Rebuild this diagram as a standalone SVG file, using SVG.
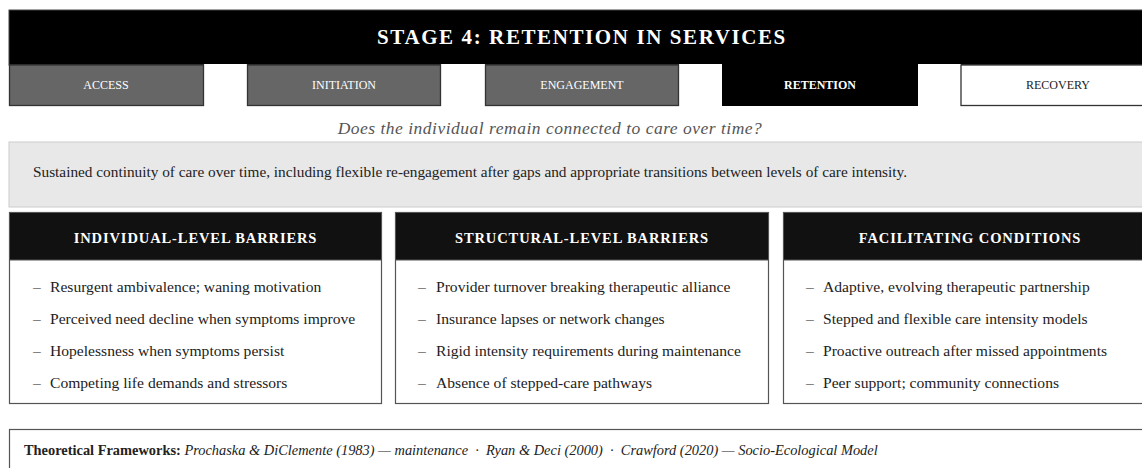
<svg xmlns="http://www.w3.org/2000/svg" width="1142" height="468" viewBox="0 0 1142 468">
<style>
.serif{font-family:"Liberation Serif","Times New Roman",serif}
.tab{font-family:"Liberation Serif",serif;font-size:12px;text-anchor:middle}
.hdr{font-family:"Liberation Serif",serif;font-size:14.5px;font-weight:bold;fill:#fff;text-anchor:middle;letter-spacing:0.9px}
.item{font-family:"Liberation Serif",serif;font-size:15.6px;fill:#222}
.colbox{fill:#fff;stroke:#555;stroke-width:1.2}
.colhdr{fill:#111;stroke:#555;stroke-width:1}
</style>
<rect width="1142" height="468" fill="#fff"/>
<g id="title">
<rect x="9" y="10" width="1150" height="55" fill="#000" stroke="#444" stroke-width="1"/>
<text x="582" y="44" class="serif" font-size="21" font-weight="bold" fill="#fff" text-anchor="middle" letter-spacing="1.6">STAGE 4: RETENTION IN SERVICES</text>
</g>
<g id="tab-gaps" fill="#fff">
<rect x="204" y="64" width="43" height="44"/>
<rect x="679" y="64" width="43" height="44"/>
<rect x="918" y="64" width="43" height="44"/>
<rect x="441" y="64" width="44" height="44"/>
</g>
<g id="tab-access"><rect x="9.5" y="65" width="194" height="40.5" fill="#666" stroke="#333" stroke-width="1.3"/><text x="106" y="89" class="tab" fill="#fff">ACCESS</text></g>
<g id="tab-initiation"><rect x="247.5" y="65" width="193" height="40.5" fill="#666" stroke="#333" stroke-width="1.3"/><text x="344" y="89" class="tab" fill="#fff">INITIATION</text></g>
<g id="tab-engagement"><rect x="485.5" y="65" width="193" height="40.5" fill="#666" stroke="#333" stroke-width="1.3"/><text x="582" y="89" class="tab" fill="#fff">ENGAGEMENT</text></g>
<g id="tab-retention"><rect x="722" y="64" width="196" height="42" fill="#000"/><text x="820" y="89" class="tab" fill="#fff" font-weight="bold">RETENTION</text></g>
<g id="tab-recovery"><rect x="961" y="65" width="200" height="40.5" fill="#fff" stroke="#333" stroke-width="1.3"/><text x="1058" y="89" class="tab" fill="#222">RECOVERY</text></g>
<g id="question"><text x="550" y="134" class="serif" font-size="17.5" font-style="italic" fill="#555" text-anchor="middle" letter-spacing="0.5">Does the individual remain connected to care over time?</text></g>
<g id="definition">
<rect x="9" y="142" width="1150" height="65" fill="#e8e8e8" stroke="#ccc" stroke-width="1"/>
<text x="33" y="177" class="serif" font-size="15.3" fill="#222">Sustained continuity of care over time, including flexible re-engagement after gaps and appropriate transitions between levels of care intensity.</text>
</g>
<g id="col-individual">
<rect x="9.5" y="212.5" width="372" height="191" class="colbox"/>
<rect x="9.5" y="212.5" width="372" height="47.5" class="colhdr"/>
<text x="195.5" y="243" class="hdr">INDIVIDUAL-LEVEL BARRIERS</text>
<text class="item" x="33" y="292">–</text><text class="item" x="50" y="292">Resurgent ambivalence; waning motivation</text>
<text class="item" x="33" y="324">–</text><text class="item" x="50" y="324">Perceived need decline when symptoms improve</text>
<text class="item" x="33" y="356">–</text><text class="item" x="50" y="356">Hopelessness when symptoms persist</text>
<text class="item" x="33" y="388">–</text><text class="item" x="50" y="388">Competing life demands and stressors</text>
</g>
<g id="col-structural">
<rect x="395.5" y="212.5" width="373" height="191" class="colbox"/>
<rect x="395.5" y="212.5" width="373" height="47.5" class="colhdr"/>
<text x="582" y="243" class="hdr">STRUCTURAL-LEVEL BARRIERS</text>
<text class="item" x="418" y="292">–</text><text class="item" x="436" y="292">Provider turnover breaking therapeutic alliance</text>
<text class="item" x="418" y="324">–</text><text class="item" x="436" y="324">Insurance lapses or network changes</text>
<text class="item" x="418" y="356">–</text><text class="item" x="436" y="356">Rigid intensity requirements during maintenance</text>
<text class="item" x="418" y="388">–</text><text class="item" x="436" y="388">Absence of stepped-care pathways</text>
</g>
<g id="col-facilitating">
<rect x="783.5" y="212.5" width="373" height="191" class="colbox"/>
<rect x="783.5" y="212.5" width="373" height="47.5" class="colhdr"/>
<text x="970" y="243" class="hdr">FACILITATING CONDITIONS</text>
<text class="item" x="806" y="292">–</text><text class="item" x="823" y="292">Adaptive, evolving therapeutic partnership</text>
<text class="item" x="806" y="324">–</text><text class="item" x="823" y="324">Stepped and flexible care intensity models</text>
<text class="item" x="806" y="356">–</text><text class="item" x="823" y="356">Proactive outreach after missed appointments</text>
<text class="item" x="806" y="388">–</text><text class="item" x="823" y="388">Peer support; community connections</text>
</g>
<g id="footer">
<rect x="9.5" y="429.5" width="1150" height="50" fill="#fff" stroke="#555" stroke-width="1.2"/>
<text x="24" y="455" class="serif" font-size="14.4" fill="#222" style="white-space:pre"><tspan font-weight="bold">Theoretical Frameworks:</tspan> <tspan font-style="italic">Prochaska &amp; DiClemente (1983) — maintenance  ·  Ryan &amp; Deci (2000)  ·  Crawford (2020) — Socio-Ecological Model</tspan></text>
</g>
<g id="connectors"></g>
</svg>
